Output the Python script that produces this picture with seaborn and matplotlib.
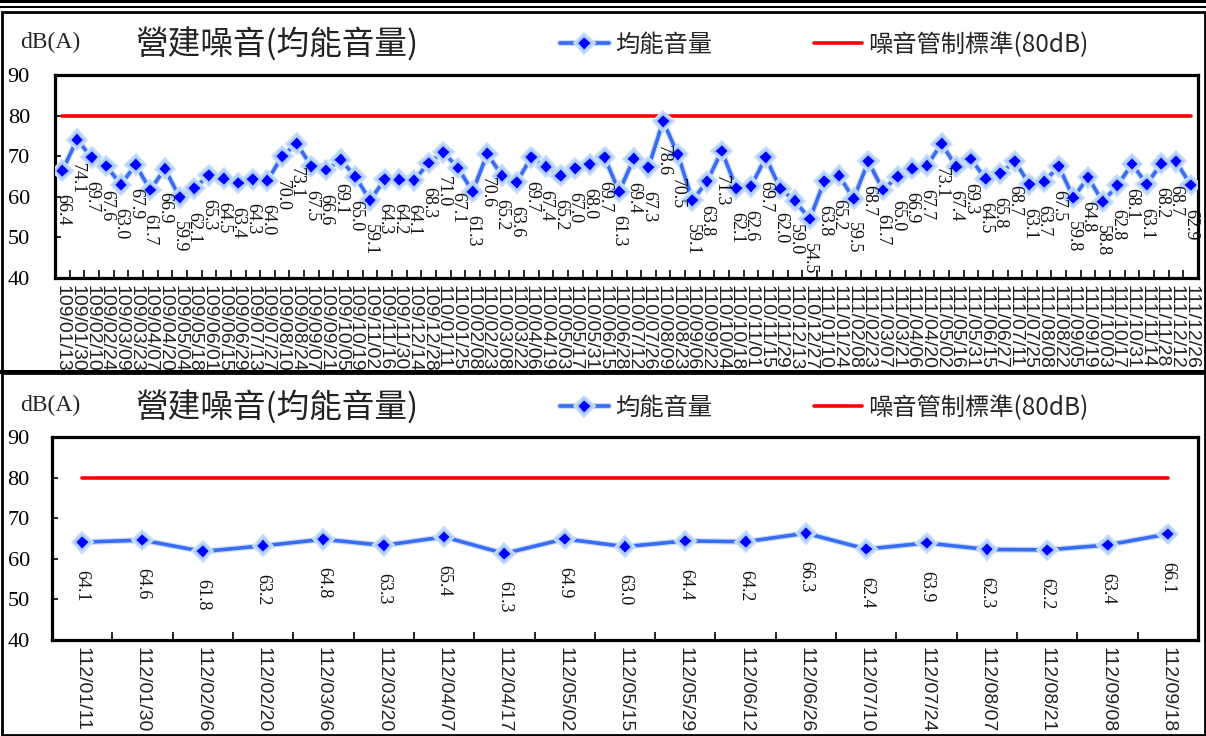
import numpy as np
import pandas as pd
import seaborn as sns
import matplotlib.pyplot as plt
import matplotlib.patheffects as pe
from matplotlib.patches import Rectangle
from matplotlib.ticker import FixedLocator

# ---- data ----
dates_top = [
    '109/01/13', '109/01/30', '109/02/10', '109/02/24', '109/03/09', '109/03/23',
    '109/04/07', '109/04/20', '109/05/04', '109/05/18', '109/06/01', '109/06/15',
    '109/06/29', '109/07/13', '109/07/27', '109/08/10', '109/08/24', '109/09/07',
    '109/09/21', '109/10/05', '109/10/19', '109/11/02', '109/11/16', '109/11/30',
    '109/12/14', '109/12/28',
    '110/01/11', '110/01/25', '110/02/08', '110/02/23', '110/03/08', '110/03/22',
    '110/04/06', '110/04/19', '110/05/03', '110/05/17', '110/05/31', '110/06/15',
    '110/06/28', '110/07/12', '110/07/26', '110/08/09', '110/08/23', '110/09/06',
    '110/09/22', '110/10/04', '110/10/18', '110/11/01', '110/11/15', '110/11/29',
    '110/12/13', '110/12/27',
    '111/01/10', '111/01/24', '111/02/08', '111/02/23', '111/03/07', '111/03/21',
    '111/04/06', '111/04/20', '111/05/02', '111/05/16', '111/05/31', '111/06/15',
    '111/06/27', '111/07/11', '111/07/25', '111/08/08', '111/08/22', '111/09/05',
    '111/09/19', '111/10/03', '111/10/17', '111/10/31', '111/11/14', '111/11/28',
    '111/12/12', '111/12/26',
]
leq_top = [
    66.4, 74.1, 69.7, 67.6, 63.0, 67.9, 61.7, 66.9, 59.9, 62.1, 65.3, 64.5, 63.4,
    64.3, 64.0, 70.0, 73.1, 67.5, 66.6, 69.1, 65.0, 59.1, 64.3, 64.2, 64.1, 68.3,
    71.0, 67.1, 61.3, 70.6, 65.2, 63.6, 69.7, 67.4, 65.2, 67.0, 68.0, 69.7, 61.3,
    69.4, 67.3, 78.6, 70.5, 59.1, 63.8, 71.3, 62.1, 62.6, 69.7, 62.0, 59.0, 54.5,
    63.8, 65.2, 59.5, 68.7, 61.7, 65.0, 66.9, 67.7, 73.1, 67.4, 69.3, 64.5, 65.8,
    68.7, 63.1, 63.7, 67.5, 59.8, 64.8, 58.8, 62.8, 68.1, 63.1, 68.2, 68.7, 62.9,
]
dates_bot = [
    '112/01/11', '112/01/30', '112/02/06', '112/02/20', '112/03/06', '112/03/20',
    '112/04/07', '112/04/17', '112/05/02', '112/05/15', '112/05/29', '112/06/12',
    '112/06/26', '112/07/10', '112/07/24', '112/08/07', '112/08/21', '112/09/08',
    '112/09/18',
]
leq_bot = [64.1, 64.6, 61.8, 63.2, 64.8, 63.3, 65.4, 61.3, 64.9, 63.0,
           64.4, 64.2, 66.3, 62.4, 63.9, 62.3, 62.2, 63.4, 66.1]
limit_db = 80

sns.set_style('white')
plt.rcParams['font.family'] = ['Liberation Serif', 'Noto Sans CJK TC', 'DejaVu Sans']

W, H = 1206, 736
fig = plt.figure(figsize=(W / 100, H / 100), dpi=100)

CJK = ['Noto Sans CJK TC', 'DejaVu Sans']


def draw_panel(ax, dates, vals, lab_off, head_y, ypad):
    n = len(vals)
    df = pd.DataFrame({'pos': np.arange(n), 'leq': vals, 'limit': limit_db})
    sns.lineplot(data=df, x='pos', y='limit', ax=ax, color='#ff0000', lw=2.6,
                 label='噪音管制標準(80dB)', zorder=2)
    sns.lineplot(data=df, x='pos', y='leq', ax=ax, color='#3a6cf2', lw=2.6,
                 marker='D', markersize=7.5, markerfacecolor='#0000ff',
                 markeredgecolor='#a8ccfb', markeredgewidth=1.5,
                 label='均能音量', zorder=3,
                 path_effects=[pe.Stroke(linewidth=4.4, foreground='#c8dcff'), pe.Normal()])

    for i, v in enumerate(vals):
        ax.annotate(f'{v:.1f}', (i, v), xytext=(0, -lab_off), textcoords='offset points',
                    rotation=270, ha='center', va='top', fontsize=13,
                    family='Liberation Serif', color='#111111')

    ax.set_xlim(-0.5, n - 0.5)
    ax.set_ylim(40, 90)
    ax.set_yticks(range(40, 91, 10))
    ax.set_xticks(np.arange(n))
    ax.set_xticklabels(dates, rotation=270, fontfamily='Liberation Sans', fontsize=14)
    ax.xaxis.set_minor_locator(FixedLocator(np.arange(0.5, n - 1, 1)))
    ax.tick_params(axis='x', which='major', length=0, pad=5, colors='#222222')
    ax.tick_params(axis='x', which='minor', direction='in', length=6, width=1.2,
                   bottom=True, color='black')
    ax.tick_params(axis='y', direction='in', length=4, width=1.2, left=True,
                   labelsize=16, pad=ypad, colors='black')
    ax.set_xlabel('')
    ax.set_ylabel('')
    for s in ax.spines.values():
        s.set_visible(True)
        s.set_color('black')
        s.set_linewidth(2.3)

    h, l = ax.get_legend_handles_labels()
    ax.legend(h[::-1], l[::-1], loc='center left', bbox_to_anchor=(560 / W, head_y),
              bbox_transform=fig.transFigure, ncol=2, frameon=False,
              prop={'family': CJK, 'size': 17.5}, handlelength=2.0, handletextpad=0.25,
              columnspacing=4.2, borderpad=0, borderaxespad=0)

    fig.text(20 / W, head_y + 0.003, 'dB(A)', fontsize=17, family='Liberation Serif',
             va='center', ha='left')
    fig.text(135 / W, head_y, '營建噪音(均能音量)', fontsize=23.5, family=CJK,
             va='center', ha='left', color='#222222')


ax1 = fig.add_axes([55 / W, 1 - 278 / H, (1198 - 55) / W, 203 / H])
ax2 = fig.add_axes([52 / W, 1 - 640 / H, (1198 - 52) / W, 203 / H])

draw_panel(ax1, dates_top, leq_top, 17, 1 - 45 / H, 18)
draw_panel(ax2, dates_bot, leq_bot, 20, 1 - 408 / H, 16)

# page borders around the two panels
fig.add_artist(Rectangle((0, 1 - 3 / H), 1, 3 / H, transform=fig.transFigure,
                         color='black', lw=0))
fig.add_artist(Rectangle((0, 1 - 7.5 / H), 1, 2 / H, transform=fig.transFigure,
                         color='black', lw=0))
fig.add_artist(Rectangle((1.5 / W, 1 - 372 / H), (W - 3) / W, (372 - 12) / H,
                         transform=fig.transFigure, fill=False, ec='black', lw=2))
fig.add_artist(Rectangle((1.5 / W, 1.5 / H), (W - 3) / W, (H - 372 - 2) / H,
                         transform=fig.transFigure, fill=False, ec='black', lw=2))
fig.add_artist(Rectangle((0, 1 - 374 / H), 1, 4 / H, transform=fig.transFigure,
                         color='black', lw=0))

fig.savefig('out.png', dpi=100)
